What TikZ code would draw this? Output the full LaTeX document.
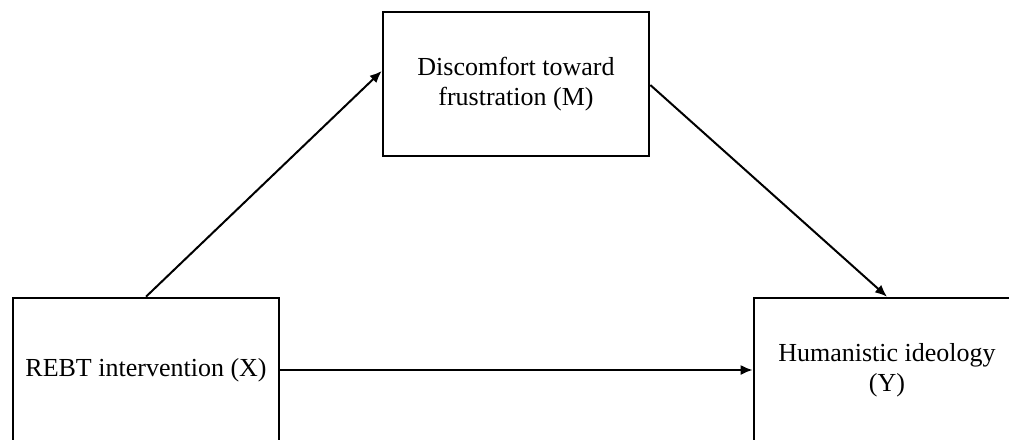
\documentclass[tikz,border=0pt]{standalone}
\usepackage{fontspec}
\setmainfont{Liberation Serif}
\usetikzlibrary{arrows.meta}
\tikzset{
  boxnode/.style={draw=black, line width=2.6pt, rectangle, minimum width=266pt, minimum height=144pt, align=center, inner sep=0pt, font=\fontsize{26}{30}\selectfont, text=black},
  conn/.style={line width=2pt, -{Latex[length=12pt,width=10pt]}}
}
\begin{document}
\begin{tikzpicture}[x=1pt,y=-1pt]
\useasboundingbox (0,0) rectangle (1009,439);
\clip (0,0) rectangle (1009,439);
\fill[white] (0,0) rectangle (1009,439);
\node[boxnode] (T) at (516,84) {Discomfort toward\\frustration (M)};
\node[boxnode] (L) at (146,370) {REBT intervention (X)};
\node[boxnode] (R) at (887,370) {Humanistic ideology\\(Y)};
\draw[conn] (L.north) -- ([yshift=13pt]T.west);
\draw[conn] ([yshift=-1pt]T.east) -- (R.north);
\draw[conn] (L.east) -- (R.west);
\end{tikzpicture}
\end{document}
